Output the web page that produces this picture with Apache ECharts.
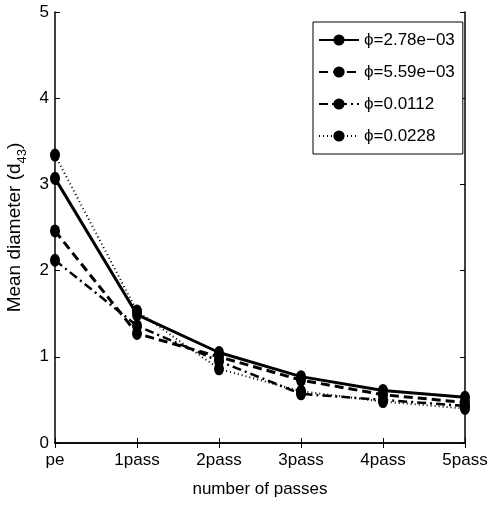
<!DOCTYPE html>
<html>
<head>
<meta charset="utf-8">
<script src="https://cdn.jsdelivr.net/npm/echarts@6/dist/echarts.min.js"></script>
<style>html,body{margin:0;padding:0;background:#fff}#c{width:490px;height:507px}</style>
</head>
<body>
<div id="c"></div>
<script>
const categories = ['pe', '1pass', '2pass', '3pass', '4pass', '5pass'];
const seriesNames = ['ϕ=2.78e−03', 'ϕ=5.59e−03', 'ϕ=0.0112', 'ϕ=0.0228'];
const phi1 = [3.07, 1.49, 1.05, 0.77, 0.61, 0.53];
const phi2 = [2.46, 1.27, 1.00, 0.73, 0.56, 0.47];
const phi3 = [2.12, 1.36, 0.95, 0.57, 0.50, 0.43];
const phi4 = [3.34, 1.53, 0.86, 0.60, 0.48, 0.40];
const yTicks = [0, 1, 2, 3, 4, 5];

const font = 'Liberation Sans, Arial, Helvetica, sans-serif';
const dashStyles = ['solid', [9, 5], [9, 4, 2, 4], [1, 3]];
const widths = [3, 3, 2.5, 2];
const values = [phi1, phi2, phi3, phi4];

const chart = echarts.init(document.getElementById('c'), null, {renderer: 'canvas'});
const axisLine = {show: true, lineStyle: {color: '#000', width: 1.5}};
chart.setOption({
  animation: false,
  backgroundColor: '#fff',
  textStyle: {fontFamily: font},
  grid: {left: 55, right: 25, top: 12, bottom: 64, containLabel: false, outerBoundsMode: 'none'},
  legend: {
    orient: 'vertical', left: 313, top: 22,
    backgroundColor: '#fff', borderColor: '#000', borderWidth: 1,
    padding: [8, 8, 8, 5],
    itemWidth: 40, itemHeight: 14, itemGap: 12,
    textStyle: {fontFamily: font, fontSize: 17, color: '#000', lineHeight: 20},
    data: seriesNames
  },
  xAxis: [{
    type: 'category', data: categories, boundaryGap: false,
    axisLine: axisLine,
    axisTick: {show: true, inside: true, length: 5, lineStyle: {color: '#000'}},
    axisLabel: {color: '#000', fontSize: 17, fontFamily: font, margin: 9},
    name: 'number of passes', nameLocation: 'middle', nameGap: 38,
    nameTextStyle: {color: '#000', fontSize: 17, fontFamily: font},
    splitLine: {show: false}
  }, {
    type: 'category', data: categories, boundaryGap: false, position: 'top',
    axisLine: axisLine,
    axisTick: {show: true, inside: true, length: 5, lineStyle: {color: '#000'}},
    axisLabel: {show: false}, splitLine: {show: false}
  }],
  yAxis: [{
    type: 'value', min: 0, max: 5, interval: 1,
    axisLine: axisLine,
    axisTick: {show: true, inside: true, length: 5, lineStyle: {color: '#000'}},
    axisLabel: {color: '#000', fontSize: 17, fontFamily: font, margin: 6,
      formatter: v => yTicks.includes(v) ? String(v) : ''},
    splitLine: {show: false},
    name: '{n|Mean diameter (d}{s|43}{n|)}', nameLocation: 'middle', nameGap: 23,
    nameTextStyle: {
      color: '#000', fontFamily: font,
      rich: {
        n: {fontSize: 19, fontFamily: font, color: '#000', lineHeight: 28, verticalAlign: 'middle'},
        s: {fontSize: 13, fontFamily: font, color: '#000', lineHeight: 13, verticalAlign: 'bottom'}
      }
    }
  }, {
    type: 'value', min: 0, max: 5, interval: 1, position: 'right',
    axisLine: axisLine,
    axisTick: {show: true, inside: true, length: 5, lineStyle: {color: '#000'}},
    axisLabel: {show: false}, splitLine: {show: false}
  }],
  series: seriesNames.map((name, i) => ({
    name: name, type: 'line', data: values[i],
    xAxisIndex: 0, yAxisIndex: 0,
    symbol: 'circle', symbolSize: [10, 13],
    itemStyle: {color: '#000'},
    lineStyle: {color: '#000', width: widths[i], type: dashStyles[i]},
    z: 10 - i
  }))
});
</script>
</body>
</html>
